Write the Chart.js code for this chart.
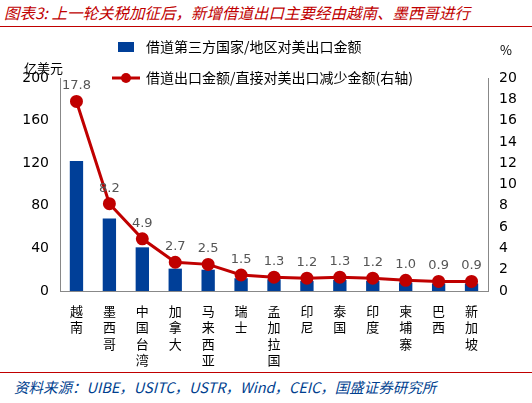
<!DOCTYPE html>
<html><head><meta charset="utf-8">
<script src="https://cdn.jsdelivr.net/npm/chart.js@4"></script>
<style>
body{margin:0;width:532px;height:403px;background:#fff;font-family:"Noto Sans CJK SC";position:relative;overflow:hidden}
#t{position:absolute;left:4px;top:1px;font-size:15.5px;color:#c00000;font-style:italic;white-space:nowrap}
#l1{position:absolute;left:0;top:26px;width:532px;border-top:1px solid #c00000}
#l2{position:absolute;left:0;top:372px;width:532px;border-top:1px solid #c00000}
#s{position:absolute;left:14px;top:376px;font-size:14.5px;color:#003f8f;font-style:italic;white-space:nowrap}
#u1{position:absolute;left:24px;top:58px;font-size:13px}
#u2{position:absolute;left:500px;top:40px;font-size:13px}
#c{position:absolute;left:0;top:28px}
</style></head><body>
<div id="t">图表3: 上一轮关税加征后，新增借道出口主要经由越南、墨西哥进行</div>
<div id="l1"></div>
<div id="c"><canvas id="cv" width="532" height="344"></canvas></div>
<div id="u1">亿美元</div><div id="u2">%</div>
<div id="l2"></div>
<div id="s">资料来源：UIBE，USITC，USTR，Wind，CEIC，国盛证券研究所</div>
<script>
const categories=["越南","墨西哥","中国台湾","加拿大","马来西亚","瑞士","孟加拉国","印尼","泰国","印度","柬埔寨","巴西","新加坡"];
const barValues=[122,68,41,21,20,12,11,9.5,10.4,9.5,8,7,7];
const lineValues=[17.8,8.2,4.9,2.7,2.5,1.5,1.3,1.2,1.3,1.2,1.0,0.9,0.9];
const barName="借道第三方国家/地区对美出口金额";
const lineName="借道出口金额/直接对美出口减少金额(右轴)";
const labelPlugin={id:'lbl',afterDatasetsDraw(ch){const ctx=ch.ctx;const m=ch.getDatasetMeta(1);ctx.save();ctx.font='13px "DejaVu Sans"';ctx.fillStyle='#555';ctx.textAlign='center';
m.data.forEach((p,i)=>{ctx.fillText(lineValues[i].toFixed(1),p.x,p.y-12);});ctx.restore();}};
new Chart(document.getElementById('cv'),{
data:{labels:categories.map(c=>c.split('')),datasets:[
{type:'bar',label:barName,data:barValues,backgroundColor:'#003f98',yAxisID:'y',barPercentage:0.45,categoryPercentage:0.9,order:2},
{type:'line',label:lineName,data:lineValues,borderColor:'#c00000',backgroundColor:'#c00000',borderWidth:3,pointRadius:5,pointBackgroundColor:'#c00000',yAxisID:'y1',order:1}]},
options:{responsive:false,animation:false,layout:{padding:{left:4,right:6,top:50,bottom:0}},
plugins:{legend:{display:false},tooltip:{enabled:false}},
scales:{
x:{grid:{display:false},border:{color:'#888'},ticks:{color:'#000',font:{size:13,family:'Noto Sans CJK SC',lineHeight:1.25},maxRotation:0,autoSkip:false,padding:4}},
y:{position:'left',min:0,max:200,grid:{display:false},border:{color:'#888'},ticks:{stepSize:40,color:'#000',font:{size:14,family:'DejaVu Sans'}},afterFit(s){s.width=56}},
y1:{position:'right',min:0,max:20,grid:{display:false},border:{color:'#888'},ticks:{stepSize:2,color:'#000',font:{size:14,family:'DejaVu Sans'}},afterFit(s){s.width=38}}}},
plugins:[labelPlugin,{id:'leg',afterDraw(ch){const c=ch.ctx;c.save();c.font='14px "Noto Sans CJK SC"';c.textBaseline='middle';
c.fillStyle='#003f98';c.fillRect(118,14,16,10);c.fillStyle='#000';c.fillText(barName,146,19);
c.strokeStyle='#c00000';c.lineWidth=3;c.beginPath();c.moveTo(112,50);c.lineTo(140,50);c.stroke();c.fillStyle='#c00000';c.beginPath();c.arc(126,50,5,0,7);c.fill();
c.fillStyle='#000';c.fillText(lineName,146,50);c.restore();}}]
});
</script></body></html>
